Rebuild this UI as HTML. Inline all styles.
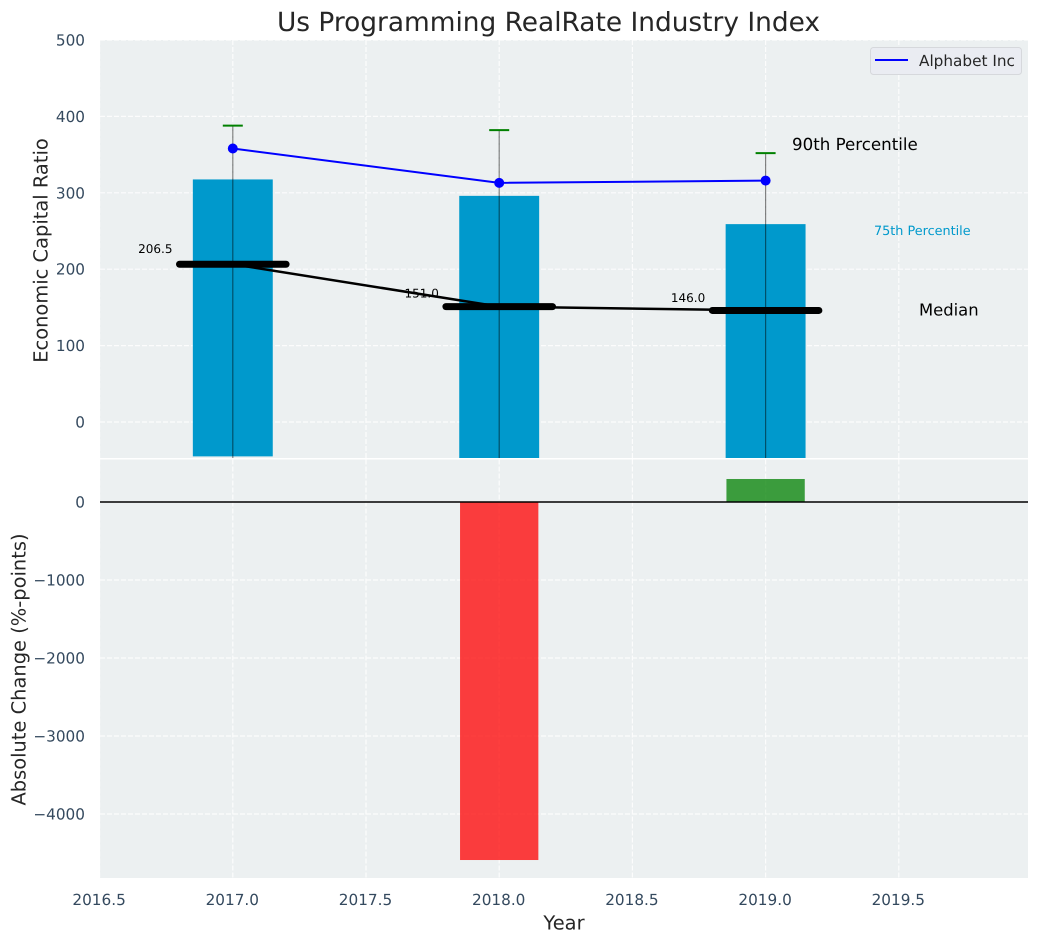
<!DOCTYPE html>
<html lang="en">
<head>
<meta charset="utf-8">
<title>Us Programming RealRate Industry Index</title>
<style>
html,body{margin:0;padding:0;background:#fff;width:1039px;height:942px;overflow:hidden}
svg{display:block;font-family:"DejaVu Sans","Liberation Sans",sans-serif;text-rendering:geometricPrecision}
</style>
</head>
<body>
<svg id="chart" xmlns="http://www.w3.org/2000/svg" width="1039" height="942" viewBox="0 0 1039 942"></svg>
<script>
const years = [2017, 2018, 2019];
const p25 = [-45, -48, -48];
const p75 = [317.5, 296, 259];
const p90 = [388, 382, 352];
const whiskerLow = [-48, -48, -48];
const medians = [206.5, 151.0, 146.0];
const alphabet = [358, 313, 316];
const changes = [0, -4590, 295];
const xTicks = [2016.5, 2017.0, 2017.5, 2018.0, 2018.5, 2019.0, 2019.5];
const topTicks = [0, 100, 200, 300, 400, 500];
const bottomTicks = [0, -1000, -2000, -3000, -4000];

const NS = 'http://www.w3.org/2000/svg';
const svgRoot = document.getElementById('chart');
const L = 100, R = 1028, T1 = 40, B1 = 458, T2 = 459.5, B2 = 878;
const xS = v => 232.8 + (v - 2017) * 266.4;
const yTop = v => 422 - v * 0.764;
const yBot = v => 502 - v * 0.078;
const TICK = '#34495e', INK = '#262626';

function add(tag, attrs, parent) {
  const e = document.createElementNS(NS, tag);
  for (const k in attrs) e.setAttribute(k, attrs[k]);
  (parent || svgRoot).appendChild(e);
  return e;
}
function txt(content, attrs, parent) {
  const e = add('text', attrs, parent);
  e.textContent = content;
  return e;
}
function fmt(v) { return String(v).replace('-', '\u2212'); }

const defs = add('defs', {});
const cp1 = add('clipPath', {id: 'clip-top'}, defs);
add('rect', {x: L, y: T1, width: R - L, height: B1 - T1}, cp1);
const cp2 = add('clipPath', {id: 'clip-bottom'}, defs);
add('rect', {x: L, y: T2, width: R - L, height: B2 - T2}, cp2);

const chartTitle = txt('Us Programming RealRate Industry Index', {x: 548.5, y: 31, 'text-anchor': 'middle', 'font-size': 26.4, fill: INK});



const bg1 = add('rect', {x: L, y: T1, width: R - L, height: B1 - T1, fill: '#ecf0f1'});


const bg2 = add('rect', {x: L, y: T2, width: R - L, height: B2 - T2, fill: '#ecf0f1'});



const gridAttrs = {stroke: '#fff', 'stroke-width': 1.2, 'stroke-dasharray': '5 2', opacity: 0.85};
const gridTop = add('g', gridAttrs);


const gridBot = add('g', gridAttrs);



xTicks.forEach(v => {
  add('line', {x1: xS(v), x2: xS(v), y1: T1, y2: B1}, gridTop);
  add('line', {x1: xS(v), x2: xS(v), y1: T2, y2: B2}, gridBot);
  const t = txt(v.toFixed(1), {x: xS(v) - 0.5, y: 905, 'text-anchor': 'middle', 'font-size': 15.28, fill: TICK});
  
  
});
topTicks.forEach(v => {
  add('line', {x1: L, x2: R, y1: yTop(v), y2: yTop(v)}, gridTop);
  const t = txt(fmt(v), {x: 85, y: yTop(v) + 5.5, 'text-anchor': 'end', 'font-size': 15.28, fill: TICK});
  
  
});
bottomTicks.forEach(v => {
  add('line', {x1: L, x2: R, y1: yBot(v), y2: yBot(v)}, gridBot);
  const t = txt(fmt(v), {x: 85, y: yBot(v) + 5.5, 'text-anchor': 'end', 'font-size': 15.28, fill: TICK});
  
  
});

const topPlot = add('g', {'clip-path': 'url(#clip-top)'});



years.forEach((y, i) => {
  const b = add('rect', {x: xS(y - 0.15), y: yTop(p75[i]), width: xS(y + 0.15) - xS(y - 0.15), height: yTop(p25[i]) - yTop(p75[i]), fill: '#0099cc'}, topPlot);
  
  
  const w = add('line', {x1: xS(y), x2: xS(y), y1: yTop(p90[i]), y2: yTop(whiskerLow[i]), stroke: '#000', 'stroke-width': 1.2, opacity: 0.48}, topPlot);
  
  
  const c = add('line', {x1: xS(y) - 10, x2: xS(y) + 10, y1: yTop(p90[i]), y2: yTop(p90[i]), stroke: '#008000', 'stroke-width': 2}, topPlot);
  
  
});

const medLine = add('polyline', {points: years.map((y, i) => xS(y) + ',' + yTop(medians[i])).join(' '), fill: 'none', stroke: '#000', 'stroke-width': 2.5}, topPlot);


years.forEach((y, i) => {
  const m = add('line', {x1: xS(y - 0.2), x2: xS(y + 0.2), y1: yTop(medians[i]), y2: yTop(medians[i]), stroke: '#000', 'stroke-width': 7, 'stroke-linecap': 'round'}, topPlot);
  
  
  const t = txt(medians[i].toFixed(1), {x: xS(y) - 77.5, y: yTop(medians[i] * 1.06) - 2, 'text-anchor': 'middle', 'font-size': 12, fill: '#000'}, topPlot);
  
  
});

const blueLine = add('polyline', {points: years.map((y, i) => xS(y) + ',' + yTop(alphabet[i])).join(' '), fill: 'none', stroke: '#0000ff', 'stroke-width': 2}, topPlot);


years.forEach((y, i) => {
  const p = add('circle', {cx: xS(y), cy: yTop(alphabet[i]), r: 5, fill: '#0000ff'}, topPlot);
  
  
});

const a90 = txt('90th Percentile', {x: 792, y: 150, 'font-size': 16.67, fill: '#000'});


const a75 = txt('75th Percentile', {x: 874, y: 235, 'font-size': 12.8, fill: '#0099cc'});


const aMed = txt('Median', {x: 919, y: 315.5, 'font-size': 16.4, fill: '#000'});



const legendBox = add('g', {});


add('rect', {x: 870.5, y: 47.5, width: 151, height: 27, rx: 3, fill: '#eaecf2', stroke: '#d6d8dc', 'stroke-width': 1}, legendBox);
add('line', {x1: 875, x2: 908, y1: 60, y2: 60, stroke: '#0000ff', 'stroke-width': 2}, legendBox);
txt('Alphabet Inc', {x: 919, y: 66, 'font-size': 15.28, fill: INK}, legendBox);

const botPlot = add('g', {'clip-path': 'url(#clip-bottom)'});


years.forEach((y, i) => {
  if (changes[i] === 0) return;
  const v = changes[i];
  const b = add('rect', {x: xS(y - 0.147), y: Math.min(yBot(0), yBot(v)), width: xS(y + 0.147) - xS(y - 0.147), height: Math.abs(yBot(v) - yBot(0)), fill: v < 0 ? '#ff0000' : '#008000', opacity: 0.75}, botPlot);
  
  
});
const zeroLine = add('line', {x1: L, x2: R, y1: yBot(0), y2: yBot(0), stroke: '#000', 'stroke-width': 1.4}, botPlot);



const xl = txt('Year', {x: 564, y: 929.5, 'text-anchor': 'middle', 'font-size': 19.44, fill: INK});


const yl1 = txt('Economic Capital Ratio', {transform: 'translate(47.5,250.5) rotate(-90)', 'text-anchor': 'middle', 'font-size': 19.44, fill: INK});


const yl2 = txt('Absolute Change (%-points)', {transform: 'translate(25.5,669.5) rotate(-90)', 'text-anchor': 'middle', 'font-size': 19.44, fill: INK});


</script>
</body>
</html>
